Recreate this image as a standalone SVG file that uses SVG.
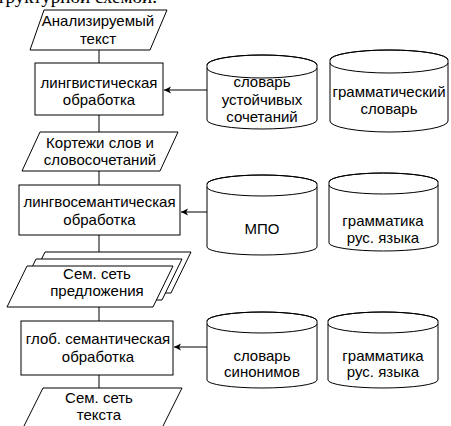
<svg xmlns="http://www.w3.org/2000/svg" width="451" height="426" viewBox="0 0 451 426">
<defs>
<style>
.s{fill:#fff;stroke:#000;stroke-width:1}
.n{fill:none;stroke:#000;stroke-width:1}
.t{font-family:"Liberation Sans",Arial,sans-serif;font-size:15px;fill:#000;text-anchor:middle}
.c{stroke:#000;stroke-width:1;fill:none}
</style>
<marker id="ar" markerWidth="8" markerHeight="8" refX="7" refY="4" orient="auto" markerUnits="userSpaceOnUse">
<path d="M0,0.5 L7,4 L0,7.5 L1.8,4 Z" fill="#000"/>
</marker>
</defs>
<rect width="451" height="426" fill="#fff"/>
<text x="157" y="3" font-family="Liberation Serif,serif" font-size="19" text-anchor="end">Структурной схемой.</text>
<g id="connectors">
<line class="c" x1="99" y1="50" x2="99" y2="63"/>
<line class="c" x1="99" y1="115" x2="99" y2="132"/>
<line class="c" x1="99" y1="171" x2="99" y2="185"/>
<line class="c" x1="99" y1="235" x2="99" y2="259"/>
<line class="c" x1="99" y1="307" x2="99" y2="321"/>
<line class="c" x1="99" y1="375" x2="99" y2="388"/>
<line class="c" x1="207" y1="90" x2="164" y2="90" marker-end="url(#ar)"/>
<line class="c" x1="207" y1="212" x2="181" y2="212" marker-end="url(#ar)"/>
<line class="c" x1="207" y1="347" x2="174" y2="347" marker-end="url(#ar)"/>
</g>
<g id="in1">
<path class="s" d="M44,10 L167,10 L150,50 L30,50 Z"/>
<text class="t" x="98" y="26">Анализируемый</text>
<text class="t" x="98" y="44">текст</text>
</g>
<g id="proc1">
<rect class="s" x="35" y="63" width="128" height="52"/>
<text class="t" x="99" y="88">лингвистическая</text>
<text class="t" x="99" y="105">обработка</text>
</g>
<g id="data1">
<path class="s" d="M40,132 L178,132 L160,171 L22,171 Z"/>
<text class="t" x="100" y="148">Кортежи слов и</text>
<text class="t" x="100" y="165">словосочетаний</text>
</g>
<g id="proc2">
<rect class="s" x="19" y="185" width="161" height="50"/>
<text class="t" x="99.5" y="207">лингвосемантическая</text>
<text class="t" x="99.5" y="225">обработка</text>
</g>
<g id="data2">
<path class="s" d="M45,252 L191,252 L171,293 L25,293 Z"/>
<path class="s" d="M36,259 L182,259 L162,300 L16,300 Z"/>
<path class="s" d="M27,266 L173,266 L153,307 L7,307 Z"/>
<text class="t" x="97" y="279">Сем. сеть</text>
<text class="t" x="97" y="296">предложения</text>
</g>
<g id="proc3">
<rect class="s" x="21" y="321" width="152" height="54"/>
<text class="t" x="98" y="344">глоб. семантическая</text>
<text class="t" x="98" y="362">обработка</text>
</g>
<g id="out">
<path class="s" d="M43,388 L182,388 L161,430 L22,430 Z"/>
<text class="t" x="99" y="403">Сем. сеть</text>
<text class="t" x="99" y="420">текста</text>
</g>
<g id="db1">
<path class="s" d="M207,65 L207,120 A55,9 0 0 0 317,120 L317,65 A55,10 0 0 0 207,65 A55,10 0 0 1 317,65"/>
<path class="n" d="M207,68 A55,10 0 0 0 317,68"/>
<text class="t" x="262" y="87">словарь</text>
<text class="t" x="262" y="105">устойчивых</text>
<text class="t" x="262" y="122">сочетаний</text>
</g>
<g id="db2">
<path class="s" d="M330,60 L330,121 A59,11 0 0 0 448,121 L448,60 A59,10 0 0 0 330,60 A59,10 0 0 1 448,60"/>
<path class="n" d="M330,63 A59,10 0 0 0 448,63"/>
<text class="t" x="389" y="97">грамматический</text>
<text class="t" x="389" y="114">словарь</text>
</g>
<g id="db3">
<path class="s" d="M207,184 L207,247 A55,8 0 0 0 317,247 L317,184 A55,9 0 0 0 207,184 A55,9 0 0 1 317,184"/>
<path class="n" d="M207,187 A55,9 0 0 0 317,187"/>
<text class="t" x="262" y="234">МПО</text>
</g>
<g id="db4">
<path class="s" d="M329,182 L329,243 A54.5,8 0 0 0 438,243 L438,182 A54.5,9 0 0 0 329,182 A54.5,9 0 0 1 438,182"/>
<path class="n" d="M329,185 A54.5,9 0 0 0 438,185"/>
<text class="t" x="383" y="226">грамматика</text>
<text class="t" x="383" y="243">рус. языка</text>
</g>
<g id="db5">
<path class="s" d="M207,321 L207,380 A55,8 0 0 0 317,380 L317,321 A55,9 0 0 0 207,321 A55,9 0 0 1 317,321"/>
<path class="n" d="M207,324 A55,9 0 0 0 317,324"/>
<text class="t" x="262" y="361">словарь</text>
<text class="t" x="262" y="377">синонимов</text>
</g>
<g id="db6">
<path class="s" d="M328,321 L328,380 A55,8 0 0 0 438,380 L438,321 A55,9 0 0 0 328,321 A55,9 0 0 1 438,321"/>
<path class="n" d="M328,324 A55,9 0 0 0 438,324"/>
<text class="t" x="383" y="361">грамматика</text>
<text class="t" x="383" y="377">рус. языка</text>
</g>
</svg>
